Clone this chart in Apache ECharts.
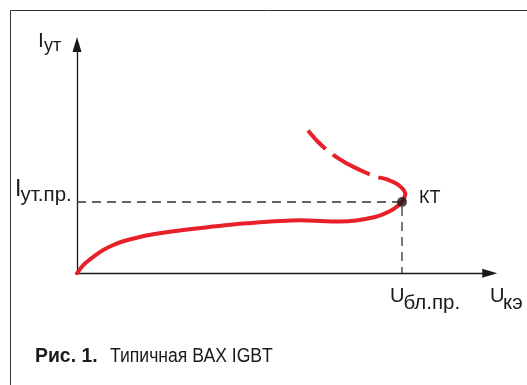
<!DOCTYPE html>
<html>
<head>
<meta charset="utf-8">
<script src="https://cdn.jsdelivr.net/npm/echarts@6/dist/echarts.min.js"></script>
<style>
  html, body { margin: 0; padding: 0; background: #ffffff; }
  #chart { width: 527px; height: 385px; }
</style>
</head>
<body>
<div id="chart"></div>
<script>
// Прямая ветвь ВАХ до критической точки (сплошная линия), в условных единицах
const uForward = [0, 1.94, 4, 6.06, 8.09, 11.17, 14.25, 18.37, 23.48, 28.62, 38.86, 52.2, 68.6, 80.9, 91.7, 97.2, 100];
const iForward = [0, 11.6, 19.6, 26.6, 32.7, 39.7, 44.9, 49.9, 54.7, 58.3, 64, 70.1, 74.3, 72.6, 79, 89.5, 100];

// Участок после критической точки (пунктир)
const uAfter = [100, 101, 99.1, 95.4, 91.7, 87.1, 82.5, 77.8, 74.2, 71.1];
const iAfter = [100, 111.2, 123.1, 131.6, 135.8, 144.9, 155.4, 169.4, 184.1, 200.3];

// Критическая точка КТ: напряжение блокировки и ток удержания
const uKT = 100;
const iKT = 100;

// Пределы осей
const uMax = 127;
const iMax = 321;

// Подписи
const iAxisName = ['I', 'ут'];
const uAxisName = ['U', 'кэ'];
const iTickLabel = ['I', 'ут.пр.'];
const uTickLabel = ['U', 'бл.пр.'];
const pointLabel = 'КТ';
const captionBold = 'Рис. 1.';
const captionText = 'Типичная ВАХ IGBT';

const pairs = (xs, ys) => xs.map((x, k) => [x, ys[k]]);

const RED = '#e8202a';
const INK = '#1a1a1a';
const FONT = '"Liberation Sans", Arial, sans-serif';

const chart = echarts.init(document.getElementById('chart'), null, { renderer: 'canvas' });

const axisCommon = {
  type: 'value',
  min: 0,
  axisLine: {
    show: true,
    onZero: false,
    symbol: ['none', 'triangle'],
    symbolSize: [9, 15],
    lineStyle: { color: INK, width: 1.3 }
  },
  axisTick: { show: false },
  axisLabel: { show: false },
  splitLine: { show: false }
};

chart.setOption({
  animation: false,
  backgroundColor: '#ffffff',
  grid: { left: 77, right: 37.25, top: 44.4, bottom: 111.7, containLabel: false },
  xAxis: Object.assign({}, axisCommon, { max: uMax }),
  yAxis: Object.assign({}, axisCommon, { max: iMax }),
  series: [
    {
      // штриховые проекции критической точки на оси
      type: 'line',
      data: [[0, iKT], [uKT, iKT], [uKT, 0]],
      symbol: 'none',
      lineStyle: { color: '#333333', width: 1.3, type: [9, 6] },
      z: 1
    },
    {
      type: 'line',
      data: pairs(uForward, iForward),
      smooth: 0.3,
      symbol: 'none',
      lineStyle: { color: RED, width: 4, cap: 'round' },
      z: 2
    },
    {
      type: 'line',
      data: pairs(uAfter, iAfter),
      smooth: 0.35,
      symbol: 'none',
      lineStyle: { color: RED, width: 4, type: [42, 9] },
      z: 2
    },
    {
      type: 'scatter',
      data: [[uKT, iKT]],
      symbol: 'circle',
      symbolSize: 10,
      itemStyle: { color: INK },
      z: 3
    }
  ]
});

// Размещение текстовых подписей относительно осей и точки КТ
const pOrigin = chart.convertToPixel({ gridIndex: 0 }, [0, 0]);
const pKT = chart.convertToPixel({ gridIndex: 0 }, [uKT, iKT]);
const pTop = chart.convertToPixel({ gridIndex: 0 }, [0, iMax]);

function txt(str, x, baseline, size, weight, squeeze) {
  return {
    type: 'text',
    x: x,
    y: baseline - 0.31 * size,
    scaleX: squeeze || 1,
    style: {
      text: str,
      font: (weight || 'normal') + ' ' + size + 'px ' + FONT,
      fill: INK,
      textAlign: 'left',
      textVerticalAlign: 'middle'
    },
    z: 10
  };
}

chart.setOption({
  graphic: [
    {
      type: 'polyline',
      shape: { points: [[10.5, 385], [10.5, 10.5], [527, 10.5]] },
      style: { stroke: '#333333', lineWidth: 1, fill: null },
      z: 0
    },
    // ось тока
    txt(iAxisName[0], pOrigin[0] - 39, pTop[1] + 3.5, 21),
    txt(iAxisName[1], pOrigin[0] - 33, pTop[1] + 7.5, 18),
    // ток удержания
    txt(iTickLabel[0], 15, pKT[1] - 5, 23),
    txt(iTickLabel[1], 20.5, pKT[1], 20.5),
    // критическая точка
    txt(pointLabel, pKT[0] + 17, pKT[1] + 2, 18),
    // напряжение блокировки
    txt(uTickLabel[0], pKT[0] - 12, pOrigin[1] + 29, 20),
    txt(uTickLabel[1], pKT[0] + 1.5, pOrigin[1] + 36, 20.5),
    // ось напряжения
    txt(uAxisName[0], 490, pOrigin[1] + 29, 20),
    txt(uAxisName[1], 503, pOrigin[1] + 36, 20.5),
    // подпись рисунка
    txt(captionBold, 35, 363, 20, 'bold', 0.97),
    txt(captionText, 110, 363, 20, 'normal', 0.88)
  ]
});
</script>
</body>
</html>
